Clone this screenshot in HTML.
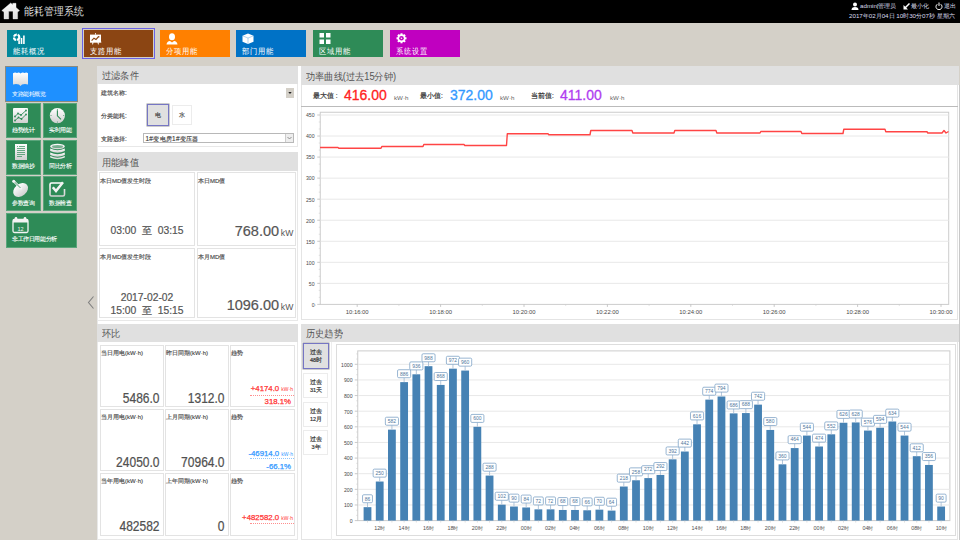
<!DOCTYPE html>
<html><head><meta charset="utf-8">
<style>
*{box-sizing:border-box;margin:0;padding:0}
html,body{width:960px;height:540px;overflow:hidden}
body{position:relative;background:#d4d0c8;font-family:"Liberation Sans",sans-serif;color:#555}
.a{position:absolute}
#hdr{left:0;top:0;width:960px;height:23px;background:#000}
.nt{position:absolute;top:30px;width:70px;height:27px;color:#fff}
.nt .t{position:absolute;left:6px;top:16.5px;font-size:7.5px;line-height:8px;white-space:nowrap;transform:scaleY(1.1);transform-origin:0 0}
.nt svg{position:absolute;left:6px;top:3px}
.st{position:absolute;background:#2e8b57;border:1px solid #5aa57b;color:#e8f0e8}
.st .t{position:absolute;font-size:5.5px;line-height:6px;white-space:nowrap}
.ph{position:absolute;background:#e0e0e0;height:18px}
.ph span{position:absolute;left:5px;top:4px;font-size:10px;line-height:11px;color:#555;white-space:nowrap;transform:scaleX(0.92);transform-origin:0 0}
.card{position:absolute;border:1px solid #e3e3e3;background:#fff}
.lbl{position:absolute;left:0px;top:5px;font-size:6px;line-height:7px;color:#444;white-space:nowrap;-webkit-text-stroke:0.15px #555}
.fl{position:absolute;font-size:6.4px;line-height:7px;color:#444;white-space:nowrap;-webkit-text-stroke:0.15px #555}
</style></head><body>
<!-- header -->
<div class="a" style="left:0;top:0;width:960px;height:23px;background:#000"></div>
<svg class="a" style="left:0;top:0" width="24" height="23" viewBox="0 0 24 23"><defs><linearGradient id="hg" x1="0" y1="0" x2="0" y2="1"><stop offset="0" stop-color="#fafafa"/><stop offset="1" stop-color="#dcdcdc"/></linearGradient></defs><path d="M1.8 10.6 L10.7 3 L12.7 4.7 L12.7 3.3 L16 3.3 L16 7.4 L19.5 10.6 L17.6 12 L17.6 18.9 L13 18.9 L13 11.2 L8.7 11.2 L8.7 18.9 L4 18.9 L4 12 Z" fill="url(#hg)" stroke="#eee" stroke-width="0.4" stroke-linejoin="round"/></svg>
<div class="a" style="left:24px;top:5px;font-size:10px;line-height:12px;color:#ddd;white-space:nowrap;transform:scaleY(1.12);transform-origin:0 0">能耗管理系统</div>
<svg class="a" style="left:851px;top:2px" width="8" height="8" viewBox="0 0 8 8"><circle cx="4" cy="2.5" r="2" fill="#fff"/><path d="M0.5 8 Q0.5 5 4 5 Q7.5 5 7.5 8Z" fill="#fff"/></svg>
<div class="a" style="left:860px;top:2px;font-size:6.2px;line-height:8px;color:#dde;white-space:nowrap">admin|管理员</div>
<svg class="a" style="left:903px;top:3px" width="7" height="7" viewBox="0 0 7 7"><path d="M6.5 0.5 L1.5 5.5" stroke="#fff" stroke-width="1.5"/><path d="M0.5 2 L0.5 6.5 L5 6.5Z" fill="#fff"/></svg>
<div class="a" style="left:911px;top:2px;font-size:6.2px;line-height:8px;color:#dde;white-space:nowrap">最小化</div>
<svg class="a" style="left:935px;top:2px" width="8" height="8" viewBox="0 0 8 8"><path d="M2.3 2.2 A3 3 0 1 0 5.7 2.2" stroke="#fff" stroke-width="1" fill="none"/><path d="M4 0.5 L4 4" stroke="#fff" stroke-width="1"/></svg>
<div class="a" style="left:944px;top:2px;font-size:6.2px;line-height:8px;color:#dde;white-space:nowrap">退出</div>
<div class="a" style="left:849px;top:11px;font-size:6.2px;line-height:9px;color:#dde;white-space:nowrap">2017年02月04日 10时30分07秒 星期六</div>

<!-- nav tiles -->
<div class="nt" style="left:7px;background:#02879b">
  <svg width="13" height="12" viewBox="0 0 13 12"><circle cx="3.6" cy="4.3" r="2.7" stroke="#fff" stroke-width="2.2" fill="none" stroke-dasharray="3.6 0.9"/><rect x="5.3" y="7.2" width="1.6" height="3.8" fill="#fff"/><rect x="7.7" y="5" width="1.6" height="6" fill="#fff"/><rect x="10.1" y="2.5" width="1.6" height="8.5" fill="#fff"/></svg>
  <span class="t">能耗概况</span>
</div>
<div class="a" style="left:82px;top:28px;width:73px;height:31px;border:1px solid #6a62e6"></div>
<div class="nt" style="left:84px;width:69px;background:#8b4513">
  <svg width="13" height="13" viewBox="0 0 13 13"><rect x="0" y="1.6" width="11" height="7.6" fill="#fff"/><path d="M1.6 7.6 L4 5.2 L6 6.4 L8.6 3.6" stroke="#8b4513" stroke-width="1.2" fill="none"/><path d="M7.6 3.2 L9.4 3 L9.2 4.8Z" fill="#8b4513"/><path d="M5.5 0.2 L5.5 1.6 M3 9 L2.6 11.4 M8 9 L8.4 11.4" stroke="#fff" stroke-width="1"/><rect x="-0.3" y="8.6" width="11.6" height="1" fill="#fff"/></svg>
  <span class="t">支路用能</span>
</div>
<div class="nt" style="left:160px;background:#ff8000">
  <svg width="13" height="13" viewBox="0 0 13 13"><ellipse cx="6" cy="3.7" rx="3" ry="3.5" fill="#fff"/><path d="M0.5 11.5 Q1 8.3 4 8 L6 9.5 L8 8 Q11 8.3 11.5 11.5Z" fill="#fff"/></svg>
  <span class="t">分项用能</span>
</div>
<div class="nt" style="left:236px;background:#0072c6">
  <svg width="13" height="13" viewBox="0 0 13 13"><path d="M6 0.5 L11.5 2.8 L11.5 8.8 L6 11 L0.5 8.8 L0.5 2.8Z" fill="#fff"/><path d="M1 3 L6 5 L11 3 M6 5 L6 10.5" stroke="#0072c6" stroke-width="0.6" fill="none" opacity="0.5"/></svg>
  <span class="t">部门用能</span>
</div>
<div class="nt" style="left:313px;background:#2e8b57">
  <svg width="13" height="13" viewBox="0 0 13 13"><rect x="0.5" y="0" width="4.5" height="4.5" fill="#fff"/><rect x="7" y="0" width="4.5" height="4.5" fill="#fff"/><rect x="0.5" y="6.5" width="4.5" height="4.5" fill="#fff"/><rect x="7" y="6.5" width="4.5" height="4.5" fill="#fff"/></svg>
  <span class="t">区域用能</span>
</div>
<div class="nt" style="left:390px;background:#c000c0">
  <svg width="13" height="13" viewBox="0 0 13 13"><g transform="translate(5.5,5.3)"><circle r="4" fill="#fff"/><g fill="#fff"><rect x="-1" y="-5" width="2" height="10"/><rect x="-1" y="-5" width="2" height="10" transform="rotate(45)"/><rect x="-1" y="-5" width="2" height="10" transform="rotate(90)"/><rect x="-1" y="-5" width="2" height="10" transform="rotate(135)"/></g><circle r="2.3" fill="#c000c0"/><path d="M-0.7 -1 L1 0 L-0.7 1Z" fill="#fff"/></g></svg>
  <span class="t">系统设置</span>
</div>

<!-- sidebar -->
<div class="a" style="left:5px;top:66px;width:73px;height:36px;background:#1e90ff;border:1px solid #8a8a80"></div>
<svg class="a" style="left:13px;top:72px" width="16" height="15" viewBox="0 0 16 15">
  <defs><linearGradient id="gw" x1="0" y1="0" x2="0" y2="1"><stop offset="0" stop-color="#fff"/><stop offset="1" stop-color="#d8d8d8"/></linearGradient></defs>
  <path d="M0 1.2 Q2 0 4 1 Q6 0 7.5 1.5 Q9.5 0 11.5 1 Q13.5 0 15 1.2 L15 12.5 Q12 11.5 9 12.5 L7.5 14 L6 12.5 Q3 11.5 0 12.5Z" fill="url(#gw)"/>
</svg>
<div class="a" style="left:12px;top:90.5px;font-size:5.5px;letter-spacing:-0.45px;line-height:6px;color:#fff;white-space:nowrap">支路能耗概览</div>

<div class="st" style="left:6px;top:103px;width:35px;height:35px"></div>
<div class="st" style="left:43px;top:103px;width:34px;height:35px"></div>
<div class="st" style="left:6px;top:140px;width:35px;height:35px"></div>
<div class="st" style="left:43px;top:140px;width:34px;height:35px"></div>
<div class="st" style="left:6px;top:176px;width:35px;height:35px"></div>
<div class="st" style="left:43px;top:176px;width:34px;height:35px"></div>
<div class="st" style="left:6px;top:213px;width:71px;height:35px"></div>

<svg class="a" style="left:0;top:0" width="90" height="260" viewBox="0 0 90 260">
  <defs><linearGradient id="gw2" x1="0" y1="0" x2="0" y2="1"><stop offset="0" stop-color="#fff"/><stop offset="1" stop-color="#d0d0d0"/></linearGradient></defs>
  <!-- trend -->
  <rect x="13" y="108" width="15" height="15" rx="1" fill="url(#gw2)"/>
  <path d="M15 116.5 L18 113.5 L21 115 L26 110.5 M15 120.5 L18.5 117.5 L21.5 119 L26 114.5" stroke="#2e8b57" stroke-width="0.9" fill="none"/><g fill="#2e8b57"><circle cx="15" cy="116.5" r="0.9"/><circle cx="18" cy="113.5" r="0.9"/><circle cx="21" cy="115" r="0.9"/><circle cx="26" cy="110.5" r="0.9"/><circle cx="15" cy="120.5" r="0.9"/><circle cx="18.5" cy="117.5" r="0.9"/><circle cx="21.5" cy="119" r="0.9"/><circle cx="26" cy="114.5" r="0.9"/></g>
  <!-- clock -->
  <circle cx="57.4" cy="115.6" r="7.6" fill="url(#gw2)"/>
  <path d="M57.4 110.2 L57.4 115.8 L61 119.4" stroke="#2e8b57" stroke-width="1.1" fill="none"/><g fill="#2e8b57"><circle cx="57.4" cy="109.2" r="0.5"/><circle cx="57.4" cy="122" r="0.5"/><circle cx="51" cy="115.6" r="0.5"/><circle cx="63.8" cy="115.6" r="0.5"/></g>
  <!-- document -->
  <rect x="15" y="144" width="12" height="16" fill="url(#gw2)"/>
  <g stroke="#2e8b57" stroke-width="0.7"><path d="M17 146.5 L18 146.5 M19 146.5 L25 146.5 M17 148.5 L25 148.5 M17 150.5 L25 150.5 M17 152.5 L25 152.5 M17 154.5 L25 154.5 M17 156.5 L22 156.5"/></g>
  <!-- database -->
  <g fill="url(#gw2)"><ellipse cx="57.5" cy="146.5" rx="7.3" ry="2.7"/><path d="M50.2 148.5 Q57.5 152 64.8 148.5 L64.8 151 Q57.5 154.5 50.2 151Z"/><path d="M50.2 152.5 Q57.5 156 64.8 152.5 L64.8 155 Q57.5 158.5 50.2 155Z"/><path d="M50.2 156 Q57.5 159.5 64.8 156 L64.8 157.5 Q57.5 161 50.2 157.5Z"/></g>
  <ellipse cx="57.5" cy="146.5" rx="5.5" ry="1.5" fill="#2e8b57" opacity="0.6"/>
  <!-- dish -->
  <ellipse cx="20.6" cy="190" rx="8.3" ry="6" transform="rotate(-40 20.6 190)" fill="url(#gw2)"/>
  <path d="M14 181.5 L21 188.5" stroke="#f4f4f4" stroke-width="2.4" stroke-linecap="round"/><path d="M14.5 182 L20.5 188" stroke="#2e8b57" stroke-width="0.8"/><circle cx="13.7" cy="181.3" r="1.5" fill="#f4f4f4"/>
  <!-- check -->
  <path d="M62 183 L51.5 183 Q50 183 50 184.5 L50 194.5 Q50 196 51.5 196 L63 196 Q64.5 196 64.5 194.5 L64.5 189" stroke="url(#gw2)" stroke-width="1.6" fill="none"/>
  <path d="M52.8 187.2 L56 191 L63 182.2" stroke="#f4f4f4" stroke-width="2.5" fill="none"/>
  <!-- calendar -->
  <rect x="13" y="219.5" width="15" height="13" rx="1.5" stroke="#f4f4f4" stroke-width="1.3" fill="none"/>
  <rect x="13" y="219.5" width="15" height="3" fill="#f4f4f4"/>
  <circle cx="16" cy="218.3" r="1.3" fill="#f4f4f4"/><circle cx="25" cy="218.3" r="1.3" fill="#f4f4f4"/>
  <text x="20.5" y="230.5" font-size="5.5" fill="#f4f4f4" text-anchor="middle" font-family="Liberation Sans">12</text>
</svg>
<div class="st t2 a" style="border:0;background:none;left:12px;top:126.8px;font-size:5.5px;line-height:6px;white-space:nowrap;letter-spacing:-0.3px;color:#fff;-webkit-text-stroke:0.1px #fff">趋势统计</div>
<div class="st t2 a" style="border:0;background:none;left:49px;top:126.8px;font-size:5.5px;line-height:6px;white-space:nowrap;letter-spacing:-0.3px;color:#fff;-webkit-text-stroke:0.1px #fff">实时用能</div>
<div class="st t2 a" style="border:0;background:none;left:12px;top:162.5px;font-size:5.5px;line-height:6px;white-space:nowrap;letter-spacing:-0.3px;color:#fff;-webkit-text-stroke:0.1px #fff">数据抽抄</div>
<div class="st t2 a" style="border:0;background:none;left:49px;top:162.5px;font-size:5.5px;line-height:6px;white-space:nowrap;letter-spacing:-0.3px;color:#fff;-webkit-text-stroke:0.1px #fff">同比分析</div>
<div class="st t2 a" style="border:0;background:none;left:12px;top:199.5px;font-size:5.5px;line-height:6px;white-space:nowrap;letter-spacing:-0.3px;color:#fff;-webkit-text-stroke:0.1px #fff">参数查询</div>
<div class="st t2 a" style="border:0;background:none;left:49px;top:199.5px;font-size:5.5px;line-height:6px;white-space:nowrap;letter-spacing:-0.3px;color:#fff;-webkit-text-stroke:0.1px #fff">数据检查</div>
<div class="st t2 a" style="border:0;background:none;left:12px;top:236px;font-size:5.5px;letter-spacing:-0.4px;line-height:6px;white-space:nowrap;color:#fff;-webkit-text-stroke:0.1px #fff">非工作日用能分析</div>
<!-- arrow -->
<svg class="a" style="left:86px;top:295px" width="10" height="16" viewBox="0 0 10 16"><path d="M7.5 1.5 L2.5 7.5 L7.5 13.5" stroke="#808080" stroke-width="1.1" fill="none"/></svg>

<!-- main white container -->
<div class="a" style="left:97px;top:66px;width:862px;height:474px;background:#fff;border-left:1px solid #e8e8e8"></div>
<!-- filter -->
<div class="ph" style="left:97px;top:66px;width:201px;height:18px"><span style="top:4px">过滤条件</span></div>
<div class="a" style="left:97px;top:84px;width:201px;height:63px;border:1px solid #e8e8e8;border-top:0"></div>
<div class="fl" style="left:101px;top:89px">建筑名称:</div>
<div class="a" style="left:286px;top:88px;width:8px;height:10px;background:#d4d0c8"></div>
<svg class="a" style="left:286px;top:88px" width="8" height="10"><path d="M2.3 4 L5.7 4 L4 6Z" fill="#222"/></svg>
<div class="fl" style="left:101px;top:112px">分类能耗:</div>
<div class="a" style="left:147px;top:104px;width:22px;height:22px;background:#e0e0e0;border:1.5px solid #7676c4;box-shadow:0 0 0 0.5px #999"></div>
<div class="fl" style="left:155px;top:111px;color:#333">电</div>
<div class="a" style="left:172px;top:105px;width:20px;height:20px;background:#fff;border:1px solid #ececec"></div>
<div class="fl" style="left:179px;top:111px;color:#333">水</div>
<div class="fl" style="left:101px;top:135px">支路选择:</div>
<div class="a" style="left:143px;top:133px;width:151px;height:10px;border:1px solid #b8b8b8;background:#fff"></div>
<div class="a" style="left:285px;top:134px;width:8px;height:8px;background:#eee;border-left:1px solid #ccc"></div>
<svg class="a" style="left:285px;top:134px" width="9" height="8"><path d="M2.5 3 L4.5 5 L6.5 3" stroke="#777" stroke-width="0.8" fill="none"/></svg>
<div class="fl" style="left:145.5px;top:134.5px;color:#333;font-size:6.4px;letter-spacing:0.3px">1#变电房1#变压器</div>

<!-- peak -->
<div class="ph" style="left:97px;top:152px;width:201px;height:19px"><span style="top:5px">用能峰值</span></div>
<div class="a" style="left:97px;top:171px;width:201px;height:150px;border:1px solid #e8e8e8;border-top:0"></div>
<div class="card" style="left:99px;top:172px;width:96px;height:74px"><div class="lbl">本日MD值发生时段</div></div>
<div class="card" style="left:197px;top:172px;width:99px;height:74px"><div class="lbl">本日MD值</div></div>
<div class="card" style="left:99px;top:248px;width:96px;height:70px"><div class="lbl">本月MD值发生时段</div></div>
<div class="card" style="left:197px;top:248px;width:99px;height:70px"><div class="lbl">本月MD值</div></div>
<div class="a" style="left:99px;top:224.5px;width:96px;text-align:center;font-size:10.3px;line-height:12px;color:#555;white-space:nowrap;word-spacing:0px;-webkit-text-stroke:0.2px #555">03:00 &nbsp;至 &nbsp;03:15</div>
<div class="a" style="left:99px;top:291.5px;width:96px;text-align:center;font-size:10.3px;line-height:12px;color:#555;white-space:nowrap;-webkit-text-stroke:0.2px #555">2017-02-02</div>
<div class="a" style="left:99px;top:304.5px;width:96px;text-align:center;font-size:10.3px;line-height:12px;color:#555;white-space:nowrap;word-spacing:0px;-webkit-text-stroke:0.2px #555">15:00 &nbsp;至 &nbsp;15:15</div>
<div class="a" style="left:197px;top:222px;width:96.5px;text-align:right;font-size:14.5px;line-height:16px;color:#555;white-space:nowrap;transform:scaleY(1.07);transform-origin:0 0;-webkit-text-stroke:0.2px #555">768.00<span style="font-size:8.6px;margin-left:1.6px;-webkit-text-stroke:0;letter-spacing:0.2px">kW</span></div>
<div class="a" style="left:197px;top:295.5px;width:96.5px;text-align:right;font-size:14.5px;line-height:16px;color:#555;white-space:nowrap;transform:scaleY(1.07);transform-origin:0 0;-webkit-text-stroke:0.2px #555">1096.00<span style="font-size:8.6px;margin-left:1.6px;-webkit-text-stroke:0;letter-spacing:0.2px">kW</span></div>

<!-- huanbi -->
<div class="ph" style="left:97px;top:324px;width:201px;height:18px"><span style="top:4px">环比</span></div>
<div class="a" style="left:97px;top:342px;width:201px;height:198px;border:1px solid #e8e8e8;border-top:0"></div>

<div class="card" style="left:100px;top:345px;width:64px;height:62px"><div class="lbl" style="top:4px">当日用电(kW·h)</div></div>
<div class="card" style="left:165px;top:345px;width:64px;height:62px"><div class="lbl" style="top:4px">昨日同期(kW·h)</div></div>
<div class="card" style="left:230px;top:345px;width:65px;height:62px"><div class="lbl" style="top:4px">趋势</div></div>
<div class="a" style="left:100px;top:390px;width:59.5px;text-align:right;font-size:12px;line-height:14px;color:#505050;white-space:nowrap;transform:scaleY(1.2);transform-origin:0 0;-webkit-text-stroke:0.2px #505050">5486.0</div>
<div class="a" style="left:165px;top:390px;width:59.5px;text-align:right;font-size:12px;line-height:14px;color:#505050;white-space:nowrap;transform:scaleY(1.2);transform-origin:0 0;-webkit-text-stroke:0.2px #505050">1312.0</div>
<div class="a" style="left:230px;top:384px;width:63px;text-align:right;font-size:7.8px;line-height:9px;-webkit-text-stroke:0.25px currentColor;color:#f33;white-space:nowrap">+4174.0 <span style="font-size:5px;-webkit-text-stroke:0">kW·h</span></div>
<div class="a" style="left:250px;top:395px;width:44px;height:1px;border-top:1px dotted #f33;opacity:0.55"></div>
<div class="a" style="left:230px;top:397px;width:61px;text-align:right;font-size:7.8px;line-height:9px;-webkit-text-stroke:0.25px currentColor;color:#f33;white-space:nowrap">318.1%</div>
<div class="card" style="left:100px;top:409px;width:64px;height:62px"><div class="lbl" style="top:4px">当月用电(kW·h)</div></div>
<div class="card" style="left:165px;top:409px;width:64px;height:62px"><div class="lbl" style="top:4px">上月同期(kW·h)</div></div>
<div class="card" style="left:230px;top:409px;width:65px;height:62px"><div class="lbl" style="top:4px">趋势</div></div>
<div class="a" style="left:100px;top:453.5px;width:59.5px;text-align:right;font-size:12px;line-height:14px;color:#505050;white-space:nowrap;transform:scaleY(1.2);transform-origin:0 0;-webkit-text-stroke:0.2px #505050">24050.0</div>
<div class="a" style="left:165px;top:453.5px;width:59.5px;text-align:right;font-size:12px;line-height:14px;color:#505050;white-space:nowrap;transform:scaleY(1.2);transform-origin:0 0;-webkit-text-stroke:0.2px #505050">70964.0</div>
<div class="a" style="left:230px;top:449px;width:63px;text-align:right;font-size:7.8px;line-height:9px;-webkit-text-stroke:0.25px currentColor;color:#39f;white-space:nowrap">-46914.0 <span style="font-size:5px;-webkit-text-stroke:0">kW·h</span></div>
<div class="a" style="left:250px;top:458px;width:44px;height:1px;border-top:1px dotted #39f;opacity:0.55"></div>
<div class="a" style="left:230px;top:462px;width:61px;text-align:right;font-size:7.8px;line-height:9px;-webkit-text-stroke:0.25px currentColor;color:#39f;white-space:nowrap">-66.1%</div>
<div class="card" style="left:100px;top:473px;width:64px;height:63px"><div class="lbl" style="top:4px">当年用电(kW·h)</div></div>
<div class="card" style="left:165px;top:473px;width:64px;height:63px"><div class="lbl" style="top:4px">上年同期(kW·h)</div></div>
<div class="card" style="left:230px;top:473px;width:65px;height:63px"><div class="lbl" style="top:4px">趋势</div></div>
<div class="a" style="left:100px;top:517.5px;width:59.5px;text-align:right;font-size:12px;line-height:14px;color:#505050;white-space:nowrap;transform:scaleY(1.2);transform-origin:0 0;-webkit-text-stroke:0.2px #505050">482582</div>
<div class="a" style="left:165px;top:517.5px;width:59.5px;text-align:right;font-size:12px;line-height:14px;color:#505050;white-space:nowrap;transform:scaleY(1.2);transform-origin:0 0;-webkit-text-stroke:0.2px #505050">0</div>
<div class="a" style="left:230px;top:513px;width:63px;text-align:right;font-size:7.8px;line-height:9px;-webkit-text-stroke:0.25px currentColor;color:#f33;white-space:nowrap">+482582.0 <span style="font-size:5px;-webkit-text-stroke:0">kW·h</span></div>
<div class="a" style="left:250px;top:523px;width:44px;height:1px;border-top:1px dotted #f33;opacity:0.55"></div>
<div class="ph" style="left:301px;top:66px;width:658px;height:19px"><span style="top:5px">功率曲线(过去15分钟)</span></div>
<div class="a" style="left:301px;top:85px;width:657px;height:235px;border:1px solid #e4e4e4;border-top:0"></div>
<div class="a" style="left:301px;top:106px;width:657px;height:1px;background:#bbb"></div>
<div class="a" style="left:313px;top:92px;font-size:6.5px;line-height:7px;color:#333;white-space:nowrap;-webkit-text-stroke:0.2px #333">最大值 :</div>
<div class="a" style="left:344px;top:87px;font-size:14px;line-height:15px;transform:scaleY(1.05);transform-origin:0 0;-webkit-text-stroke:0.3px currentColor;color:#f22;white-space:nowrap">416.00</div>
<div class="a" style="left:394px;top:93.5px;font-size:6.2px;line-height:7px;color:#666;white-space:nowrap">kW·h</div>
<div class="a" style="left:420px;top:92px;font-size:6.5px;line-height:7px;color:#333;white-space:nowrap;-webkit-text-stroke:0.2px #333">最小值:</div>
<div class="a" style="left:450px;top:87px;font-size:14px;line-height:15px;transform:scaleY(1.05);transform-origin:0 0;-webkit-text-stroke:0.3px currentColor;color:#39f;white-space:nowrap">372.00</div>
<div class="a" style="left:500px;top:93.5px;font-size:6.2px;line-height:7px;color:#666;white-space:nowrap">kW·h</div>
<div class="a" style="left:531px;top:92px;font-size:6.5px;line-height:7px;color:#333;white-space:nowrap;-webkit-text-stroke:0.2px #333">当前值:</div>
<div class="a" style="left:560px;top:87px;font-size:14px;line-height:15px;transform:scaleY(1.05);transform-origin:0 0;-webkit-text-stroke:0.3px currentColor;color:#b03cf0;white-space:nowrap">411.00</div>
<div class="a" style="left:610px;top:93.5px;font-size:6.2px;line-height:7px;color:#666;white-space:nowrap">kW·h</div>
<div class="ph" style="left:301px;top:324px;width:658px;height:18px"><span style="top:4px">历史趋势</span></div>
<div class="a" style="left:301px;top:342px;width:657px;height:198px;border:1px solid #e4e4e4;border-top:0"></div>
<div class="a" style="left:331px;top:342px;width:1px;height:198px;background:#eee"></div>
<div class="a" style="left:303px;top:343px;width:26px;height:26px;background:#e0e0e0;border:1.5px solid #7676c4;box-shadow:0 0 0 0.5px #999"></div>
<div class="a" style="left:303px;top:349px;width:26px;text-align:center;font-size:5.5px;line-height:7.5px;color:#333;-webkit-text-stroke:0.2px #333">过去<br>48时</div>
<div class="a" style="left:303px;top:373px;width:25px;height:25px;background:#fff;border:1px solid #ececec"></div>
<div class="a" style="left:303px;top:379px;width:26px;text-align:center;font-size:5.5px;line-height:7.5px;color:#333;-webkit-text-stroke:0.2px #333">过去<br>31天</div>
<div class="a" style="left:303px;top:402px;width:25px;height:25px;background:#fff;border:1px solid #ececec"></div>
<div class="a" style="left:303px;top:408px;width:26px;text-align:center;font-size:5.5px;line-height:7.5px;color:#333;-webkit-text-stroke:0.2px #333">过去<br>12月</div>
<div class="a" style="left:303px;top:430px;width:25px;height:25px;background:#fff;border:1px solid #ececec"></div>
<div class="a" style="left:303px;top:436px;width:26px;text-align:center;font-size:5.5px;line-height:7.5px;color:#333;-webkit-text-stroke:0.2px #333">过去<br>3年</div>
<svg class="a" style="left:0;top:0" width="960" height="540" viewBox="0 0 960 540" font-family="Liberation Sans, sans-serif"><rect x="301.5" y="106.5" width="656" height="213" fill="none" stroke="none"/><rect x="320.25" y="112.25" width="628.45" height="192.14999999999998" fill="none" stroke="#ccc" stroke-width="1"/><line x1="317.25" y1="304.40" x2="320.25" y2="304.40" stroke="#bbb" stroke-width="0.8"/><text x="314.6" y="306.60" font-size="5.6" fill="#484848" text-anchor="end" transform="translate(314.6 304.40) scale(0.92 1.08) translate(-314.6 -304.40)">0</text><line x1="318.75" y1="297.39" x2="320.25" y2="297.39" stroke="#ccc" stroke-width="0.6"/><line x1="318.75" y1="290.37" x2="320.25" y2="290.37" stroke="#ccc" stroke-width="0.6"/><line x1="320.25" y1="283.36" x2="948.7" y2="283.36" stroke="#e8e8e8" stroke-width="1"/><line x1="317.25" y1="283.36" x2="320.25" y2="283.36" stroke="#bbb" stroke-width="0.8"/><text x="314.6" y="285.56" font-size="5.6" fill="#484848" text-anchor="end" transform="translate(314.6 283.36) scale(0.92 1.08) translate(-314.6 -283.36)">50</text><line x1="318.75" y1="276.34" x2="320.25" y2="276.34" stroke="#ccc" stroke-width="0.6"/><line x1="318.75" y1="269.33" x2="320.25" y2="269.33" stroke="#ccc" stroke-width="0.6"/><line x1="320.25" y1="262.31" x2="948.7" y2="262.31" stroke="#e8e8e8" stroke-width="1"/><line x1="317.25" y1="262.31" x2="320.25" y2="262.31" stroke="#bbb" stroke-width="0.8"/><text x="314.6" y="264.51" font-size="5.6" fill="#484848" text-anchor="end" transform="translate(314.6 262.31) scale(0.92 1.08) translate(-314.6 -262.31)">100</text><line x1="318.75" y1="255.30" x2="320.25" y2="255.30" stroke="#ccc" stroke-width="0.6"/><line x1="318.75" y1="248.28" x2="320.25" y2="248.28" stroke="#ccc" stroke-width="0.6"/><line x1="320.25" y1="241.27" x2="948.7" y2="241.27" stroke="#e8e8e8" stroke-width="1"/><line x1="317.25" y1="241.27" x2="320.25" y2="241.27" stroke="#bbb" stroke-width="0.8"/><text x="314.6" y="243.47" font-size="5.6" fill="#484848" text-anchor="end" transform="translate(314.6 241.27) scale(0.92 1.08) translate(-314.6 -241.27)">150</text><line x1="318.75" y1="234.25" x2="320.25" y2="234.25" stroke="#ccc" stroke-width="0.6"/><line x1="318.75" y1="227.24" x2="320.25" y2="227.24" stroke="#ccc" stroke-width="0.6"/><line x1="320.25" y1="220.22" x2="948.7" y2="220.22" stroke="#e8e8e8" stroke-width="1"/><line x1="317.25" y1="220.22" x2="320.25" y2="220.22" stroke="#bbb" stroke-width="0.8"/><text x="314.6" y="222.42" font-size="5.6" fill="#484848" text-anchor="end" transform="translate(314.6 220.22) scale(0.92 1.08) translate(-314.6 -220.22)">200</text><line x1="318.75" y1="213.21" x2="320.25" y2="213.21" stroke="#ccc" stroke-width="0.6"/><line x1="318.75" y1="206.19" x2="320.25" y2="206.19" stroke="#ccc" stroke-width="0.6"/><line x1="320.25" y1="199.18" x2="948.7" y2="199.18" stroke="#e8e8e8" stroke-width="1"/><line x1="317.25" y1="199.18" x2="320.25" y2="199.18" stroke="#bbb" stroke-width="0.8"/><text x="314.6" y="201.38" font-size="5.6" fill="#484848" text-anchor="end" transform="translate(314.6 199.18) scale(0.92 1.08) translate(-314.6 -199.18)">250</text><line x1="318.75" y1="192.16" x2="320.25" y2="192.16" stroke="#ccc" stroke-width="0.6"/><line x1="318.75" y1="185.15" x2="320.25" y2="185.15" stroke="#ccc" stroke-width="0.6"/><line x1="320.25" y1="178.13" x2="948.7" y2="178.13" stroke="#e8e8e8" stroke-width="1"/><line x1="317.25" y1="178.13" x2="320.25" y2="178.13" stroke="#bbb" stroke-width="0.8"/><text x="314.6" y="180.33" font-size="5.6" fill="#484848" text-anchor="end" transform="translate(314.6 178.13) scale(0.92 1.08) translate(-314.6 -178.13)">300</text><line x1="318.75" y1="171.12" x2="320.25" y2="171.12" stroke="#ccc" stroke-width="0.6"/><line x1="318.75" y1="164.10" x2="320.25" y2="164.10" stroke="#ccc" stroke-width="0.6"/><line x1="320.25" y1="157.09" x2="948.7" y2="157.09" stroke="#e8e8e8" stroke-width="1"/><line x1="317.25" y1="157.09" x2="320.25" y2="157.09" stroke="#bbb" stroke-width="0.8"/><text x="314.6" y="159.29" font-size="5.6" fill="#484848" text-anchor="end" transform="translate(314.6 157.09) scale(0.92 1.08) translate(-314.6 -157.09)">350</text><line x1="318.75" y1="150.07" x2="320.25" y2="150.07" stroke="#ccc" stroke-width="0.6"/><line x1="318.75" y1="143.06" x2="320.25" y2="143.06" stroke="#ccc" stroke-width="0.6"/><line x1="320.25" y1="136.04" x2="948.7" y2="136.04" stroke="#e8e8e8" stroke-width="1"/><line x1="317.25" y1="136.04" x2="320.25" y2="136.04" stroke="#bbb" stroke-width="0.8"/><text x="314.6" y="138.24" font-size="5.6" fill="#484848" text-anchor="end" transform="translate(314.6 136.04) scale(0.92 1.08) translate(-314.6 -136.04)">400</text><line x1="318.75" y1="129.03" x2="320.25" y2="129.03" stroke="#ccc" stroke-width="0.6"/><line x1="318.75" y1="122.01" x2="320.25" y2="122.01" stroke="#ccc" stroke-width="0.6"/><line x1="320.25" y1="115.00" x2="948.7" y2="115.00" stroke="#e8e8e8" stroke-width="1"/><line x1="317.25" y1="115.00" x2="320.25" y2="115.00" stroke="#bbb" stroke-width="0.8"/><text x="314.6" y="117.20" font-size="5.6" fill="#484848" text-anchor="end" transform="translate(314.6 115.00) scale(0.92 1.08) translate(-314.6 -115.00)">450</text><line x1="357.20" y1="304.4" x2="357.20" y2="306.9" stroke="#bbb" stroke-width="0.8"/><text x="357.20" y="314.4" font-size="5.9" fill="#484848" text-anchor="middle">10:16:00</text><line x1="315.50" y1="304.4" x2="315.50" y2="305.9" stroke="#ccc" stroke-width="0.6"/><line x1="440.60" y1="304.4" x2="440.60" y2="306.9" stroke="#bbb" stroke-width="0.8"/><text x="440.60" y="314.4" font-size="5.9" fill="#484848" text-anchor="middle">10:18:00</text><line x1="398.90" y1="304.4" x2="398.90" y2="305.9" stroke="#ccc" stroke-width="0.6"/><line x1="524.00" y1="304.4" x2="524.00" y2="306.9" stroke="#bbb" stroke-width="0.8"/><text x="524.00" y="314.4" font-size="5.9" fill="#484848" text-anchor="middle">10:20:00</text><line x1="482.30" y1="304.4" x2="482.30" y2="305.9" stroke="#ccc" stroke-width="0.6"/><line x1="607.40" y1="304.4" x2="607.40" y2="306.9" stroke="#bbb" stroke-width="0.8"/><text x="607.40" y="314.4" font-size="5.9" fill="#484848" text-anchor="middle">10:22:00</text><line x1="565.70" y1="304.4" x2="565.70" y2="305.9" stroke="#ccc" stroke-width="0.6"/><line x1="690.80" y1="304.4" x2="690.80" y2="306.9" stroke="#bbb" stroke-width="0.8"/><text x="690.80" y="314.4" font-size="5.9" fill="#484848" text-anchor="middle">10:24:00</text><line x1="649.10" y1="304.4" x2="649.10" y2="305.9" stroke="#ccc" stroke-width="0.6"/><line x1="774.20" y1="304.4" x2="774.20" y2="306.9" stroke="#bbb" stroke-width="0.8"/><text x="774.20" y="314.4" font-size="5.9" fill="#484848" text-anchor="middle">10:26:00</text><line x1="732.50" y1="304.4" x2="732.50" y2="305.9" stroke="#ccc" stroke-width="0.6"/><line x1="857.60" y1="304.4" x2="857.60" y2="306.9" stroke="#bbb" stroke-width="0.8"/><text x="857.60" y="314.4" font-size="5.9" fill="#484848" text-anchor="middle">10:28:00</text><line x1="815.90" y1="304.4" x2="815.90" y2="305.9" stroke="#ccc" stroke-width="0.6"/><line x1="941.00" y1="304.4" x2="941.00" y2="306.9" stroke="#bbb" stroke-width="0.8"/><text x="941.00" y="314.4" font-size="5.9" fill="#484848" text-anchor="middle">10:30:00</text><line x1="899.30" y1="304.4" x2="899.30" y2="305.9" stroke="#ccc" stroke-width="0.6"/><path d="M320.0 147.50 L338.0 147.50 L338.8 148.25 L381.0 148.25 L381.8 146.50 L423.0 146.50 L423.8 144.50 L464.0 144.50 L464.8 145.50 L506.5 145.50 L507.3 133.75 L548.0 133.75 L548.8 134.75 L590.0 134.75 L590.8 130.50 L632.0 130.50 L632.8 133.00 L674.0 133.00 L674.8 130.50 L716.0 130.50 L716.8 133.00 L760.0 133.00 L760.8 131.50 L801.0 131.50 L801.8 133.50 L843.0 133.50 L843.8 129.25 L885.0 129.25 L885.8 131.75 L927.0 131.75 L927.8 133.00 L942.0 133.00 L944.0 130.50 L946.0 133.00 L948.5 131.50" fill="none" stroke="#f44" stroke-width="1.4" stroke-linejoin="round"/><rect x="336.5" y="344.5" width="619" height="191" fill="none" stroke="#ddd" stroke-width="1"/><rect x="357.75" y="350.9" width="592.15" height="169.70000000000005" fill="none" stroke="#ccc" stroke-width="1"/><line x1="354.75" y1="520.60" x2="357.75" y2="520.60" stroke="#bbb" stroke-width="0.8"/><text x="352.5" y="522.80" font-size="5.6" fill="#484848" text-anchor="end" transform="translate(352.5 520.60) scale(0.92 1.08) translate(-352.5 -520.60)">0</text><line x1="356.25" y1="515.39" x2="357.75" y2="515.39" stroke="#ccc" stroke-width="0.6"/><line x1="356.25" y1="510.18" x2="357.75" y2="510.18" stroke="#ccc" stroke-width="0.6"/><line x1="357.75" y1="504.97" x2="949.9" y2="504.97" stroke="#e8e8e8" stroke-width="1"/><line x1="354.75" y1="504.97" x2="357.75" y2="504.97" stroke="#bbb" stroke-width="0.8"/><text x="352.5" y="507.17" font-size="5.6" fill="#484848" text-anchor="end" transform="translate(352.5 504.97) scale(0.92 1.08) translate(-352.5 -504.97)">100</text><line x1="356.25" y1="499.76" x2="357.75" y2="499.76" stroke="#ccc" stroke-width="0.6"/><line x1="356.25" y1="494.55" x2="357.75" y2="494.55" stroke="#ccc" stroke-width="0.6"/><line x1="357.75" y1="489.34" x2="949.9" y2="489.34" stroke="#e8e8e8" stroke-width="1"/><line x1="354.75" y1="489.34" x2="357.75" y2="489.34" stroke="#bbb" stroke-width="0.8"/><text x="352.5" y="491.54" font-size="5.6" fill="#484848" text-anchor="end" transform="translate(352.5 489.34) scale(0.92 1.08) translate(-352.5 -489.34)">200</text><line x1="356.25" y1="484.13" x2="357.75" y2="484.13" stroke="#ccc" stroke-width="0.6"/><line x1="356.25" y1="478.92" x2="357.75" y2="478.92" stroke="#ccc" stroke-width="0.6"/><line x1="357.75" y1="473.71" x2="949.9" y2="473.71" stroke="#e8e8e8" stroke-width="1"/><line x1="354.75" y1="473.71" x2="357.75" y2="473.71" stroke="#bbb" stroke-width="0.8"/><text x="352.5" y="475.91" font-size="5.6" fill="#484848" text-anchor="end" transform="translate(352.5 473.71) scale(0.92 1.08) translate(-352.5 -473.71)">300</text><line x1="356.25" y1="468.50" x2="357.75" y2="468.50" stroke="#ccc" stroke-width="0.6"/><line x1="356.25" y1="463.29" x2="357.75" y2="463.29" stroke="#ccc" stroke-width="0.6"/><line x1="357.75" y1="458.08" x2="949.9" y2="458.08" stroke="#e8e8e8" stroke-width="1"/><line x1="354.75" y1="458.08" x2="357.75" y2="458.08" stroke="#bbb" stroke-width="0.8"/><text x="352.5" y="460.28" font-size="5.6" fill="#484848" text-anchor="end" transform="translate(352.5 458.08) scale(0.92 1.08) translate(-352.5 -458.08)">400</text><line x1="356.25" y1="452.87" x2="357.75" y2="452.87" stroke="#ccc" stroke-width="0.6"/><line x1="356.25" y1="447.66" x2="357.75" y2="447.66" stroke="#ccc" stroke-width="0.6"/><line x1="357.75" y1="442.45" x2="949.9" y2="442.45" stroke="#e8e8e8" stroke-width="1"/><line x1="354.75" y1="442.45" x2="357.75" y2="442.45" stroke="#bbb" stroke-width="0.8"/><text x="352.5" y="444.65" font-size="5.6" fill="#484848" text-anchor="end" transform="translate(352.5 442.45) scale(0.92 1.08) translate(-352.5 -442.45)">500</text><line x1="356.25" y1="437.24" x2="357.75" y2="437.24" stroke="#ccc" stroke-width="0.6"/><line x1="356.25" y1="432.03" x2="357.75" y2="432.03" stroke="#ccc" stroke-width="0.6"/><line x1="357.75" y1="426.82" x2="949.9" y2="426.82" stroke="#e8e8e8" stroke-width="1"/><line x1="354.75" y1="426.82" x2="357.75" y2="426.82" stroke="#bbb" stroke-width="0.8"/><text x="352.5" y="429.02" font-size="5.6" fill="#484848" text-anchor="end" transform="translate(352.5 426.82) scale(0.92 1.08) translate(-352.5 -426.82)">600</text><line x1="356.25" y1="421.61" x2="357.75" y2="421.61" stroke="#ccc" stroke-width="0.6"/><line x1="356.25" y1="416.40" x2="357.75" y2="416.40" stroke="#ccc" stroke-width="0.6"/><line x1="357.75" y1="411.19" x2="949.9" y2="411.19" stroke="#e8e8e8" stroke-width="1"/><line x1="354.75" y1="411.19" x2="357.75" y2="411.19" stroke="#bbb" stroke-width="0.8"/><text x="352.5" y="413.39" font-size="5.6" fill="#484848" text-anchor="end" transform="translate(352.5 411.19) scale(0.92 1.08) translate(-352.5 -411.19)">700</text><line x1="356.25" y1="405.98" x2="357.75" y2="405.98" stroke="#ccc" stroke-width="0.6"/><line x1="356.25" y1="400.77" x2="357.75" y2="400.77" stroke="#ccc" stroke-width="0.6"/><line x1="357.75" y1="395.56" x2="949.9" y2="395.56" stroke="#e8e8e8" stroke-width="1"/><line x1="354.75" y1="395.56" x2="357.75" y2="395.56" stroke="#bbb" stroke-width="0.8"/><text x="352.5" y="397.76" font-size="5.6" fill="#484848" text-anchor="end" transform="translate(352.5 395.56) scale(0.92 1.08) translate(-352.5 -395.56)">800</text><line x1="356.25" y1="390.35" x2="357.75" y2="390.35" stroke="#ccc" stroke-width="0.6"/><line x1="356.25" y1="385.14" x2="357.75" y2="385.14" stroke="#ccc" stroke-width="0.6"/><line x1="357.75" y1="379.93" x2="949.9" y2="379.93" stroke="#e8e8e8" stroke-width="1"/><line x1="354.75" y1="379.93" x2="357.75" y2="379.93" stroke="#bbb" stroke-width="0.8"/><text x="352.5" y="382.13" font-size="5.6" fill="#484848" text-anchor="end" transform="translate(352.5 379.93) scale(0.92 1.08) translate(-352.5 -379.93)">900</text><line x1="356.25" y1="374.72" x2="357.75" y2="374.72" stroke="#ccc" stroke-width="0.6"/><line x1="356.25" y1="369.51" x2="357.75" y2="369.51" stroke="#ccc" stroke-width="0.6"/><line x1="357.75" y1="364.30" x2="949.9" y2="364.30" stroke="#e8e8e8" stroke-width="1"/><line x1="354.75" y1="364.30" x2="357.75" y2="364.30" stroke="#bbb" stroke-width="0.8"/><text x="352.5" y="366.50" font-size="5.6" fill="#484848" text-anchor="end" transform="translate(352.5 364.30) scale(0.92 1.08) translate(-352.5 -364.30)">1000</text><line x1="356.25" y1="359.09" x2="357.75" y2="359.09" stroke="#ccc" stroke-width="0.6"/><line x1="356.25" y1="353.88" x2="357.75" y2="353.88" stroke="#ccc" stroke-width="0.6"/><rect x="363.60" y="507.16" width="7.8" height="13.44" fill="#4682b4"/><line x1="367.50" y1="502.76" x2="367.50" y2="507.16" stroke="#a9c0d6" stroke-width="0.9"/><rect x="362.55" y="494.76" width="9.90" height="8" rx="1.2" fill="#fff" stroke="#7fa3c6" stroke-width="0.8"/><text x="367.50" y="500.56" font-size="5" fill="#4f769c" text-anchor="middle">86</text><line x1="367.50" y1="520.6" x2="367.50" y2="522.6" stroke="#ccc" stroke-width="0.6"/><rect x="375.81" y="481.53" width="7.8" height="39.07" fill="#4682b4"/><line x1="379.70" y1="477.13" x2="379.70" y2="481.53" stroke="#a9c0d6" stroke-width="0.9"/><rect x="373.15" y="469.13" width="13.10" height="8" rx="1.2" fill="#fff" stroke="#7fa3c6" stroke-width="0.8"/><text x="379.70" y="474.93" font-size="5" fill="#4f769c" text-anchor="middle">250</text><text x="379.70" y="529.9" font-size="5.4" fill="#505050" text-anchor="middle">12时</text><line x1="379.70" y1="520.6" x2="379.70" y2="522.6" stroke="#ccc" stroke-width="0.6"/><rect x="388.01" y="429.63" width="7.8" height="90.97" fill="#4682b4"/><line x1="391.91" y1="425.23" x2="391.91" y2="429.63" stroke="#a9c0d6" stroke-width="0.9"/><rect x="385.36" y="417.23" width="13.10" height="8" rx="1.2" fill="#fff" stroke="#7fa3c6" stroke-width="0.8"/><text x="391.91" y="423.03" font-size="5" fill="#4f769c" text-anchor="middle">582</text><line x1="391.91" y1="520.6" x2="391.91" y2="522.6" stroke="#ccc" stroke-width="0.6"/><rect x="400.22" y="382.12" width="7.8" height="138.48" fill="#4682b4"/><line x1="404.12" y1="377.72" x2="404.12" y2="382.12" stroke="#a9c0d6" stroke-width="0.9"/><rect x="397.56" y="369.72" width="13.10" height="8" rx="1.2" fill="#fff" stroke="#7fa3c6" stroke-width="0.8"/><text x="404.12" y="375.52" font-size="5" fill="#4f769c" text-anchor="middle">886</text><text x="404.12" y="529.9" font-size="5.4" fill="#505050" text-anchor="middle">14时</text><line x1="404.12" y1="520.6" x2="404.12" y2="522.6" stroke="#ccc" stroke-width="0.6"/><rect x="412.42" y="374.30" width="7.8" height="146.30" fill="#4682b4"/><line x1="416.32" y1="369.90" x2="416.32" y2="374.30" stroke="#a9c0d6" stroke-width="0.9"/><rect x="409.77" y="361.90" width="13.10" height="8" rx="1.2" fill="#fff" stroke="#7fa3c6" stroke-width="0.8"/><text x="416.32" y="367.70" font-size="5" fill="#4f769c" text-anchor="middle">936</text><line x1="416.32" y1="520.6" x2="416.32" y2="522.6" stroke="#ccc" stroke-width="0.6"/><rect x="424.62" y="366.18" width="7.8" height="154.42" fill="#4682b4"/><line x1="428.52" y1="361.78" x2="428.52" y2="366.18" stroke="#a9c0d6" stroke-width="0.9"/><rect x="421.97" y="353.78" width="13.10" height="8" rx="1.2" fill="#fff" stroke="#7fa3c6" stroke-width="0.8"/><text x="428.52" y="359.58" font-size="5" fill="#4f769c" text-anchor="middle">988</text><text x="428.52" y="529.9" font-size="5.4" fill="#505050" text-anchor="middle">16时</text><line x1="428.52" y1="520.6" x2="428.52" y2="522.6" stroke="#ccc" stroke-width="0.6"/><rect x="436.83" y="384.93" width="7.8" height="135.67" fill="#4682b4"/><line x1="440.73" y1="380.53" x2="440.73" y2="384.93" stroke="#a9c0d6" stroke-width="0.9"/><rect x="434.18" y="372.53" width="13.10" height="8" rx="1.2" fill="#fff" stroke="#7fa3c6" stroke-width="0.8"/><text x="440.73" y="378.33" font-size="5" fill="#4f769c" text-anchor="middle">868</text><line x1="440.73" y1="520.6" x2="440.73" y2="522.6" stroke="#ccc" stroke-width="0.6"/><rect x="449.04" y="368.68" width="7.8" height="151.92" fill="#4682b4"/><line x1="452.94" y1="364.28" x2="452.94" y2="368.68" stroke="#a9c0d6" stroke-width="0.9"/><rect x="446.38" y="356.28" width="13.10" height="8" rx="1.2" fill="#fff" stroke="#7fa3c6" stroke-width="0.8"/><text x="452.94" y="362.08" font-size="5" fill="#4f769c" text-anchor="middle">972</text><text x="452.94" y="529.9" font-size="5.4" fill="#505050" text-anchor="middle">18时</text><line x1="452.94" y1="520.6" x2="452.94" y2="522.6" stroke="#ccc" stroke-width="0.6"/><rect x="461.24" y="370.55" width="7.8" height="150.05" fill="#4682b4"/><line x1="465.14" y1="366.15" x2="465.14" y2="370.55" stroke="#a9c0d6" stroke-width="0.9"/><rect x="458.59" y="358.15" width="13.10" height="8" rx="1.2" fill="#fff" stroke="#7fa3c6" stroke-width="0.8"/><text x="465.14" y="363.95" font-size="5" fill="#4f769c" text-anchor="middle">960</text><line x1="465.14" y1="520.6" x2="465.14" y2="522.6" stroke="#ccc" stroke-width="0.6"/><rect x="473.45" y="426.82" width="7.8" height="93.78" fill="#4682b4"/><line x1="477.35" y1="422.42" x2="477.35" y2="426.82" stroke="#a9c0d6" stroke-width="0.9"/><rect x="470.80" y="414.42" width="13.10" height="8" rx="1.2" fill="#fff" stroke="#7fa3c6" stroke-width="0.8"/><text x="477.35" y="420.22" font-size="5" fill="#4f769c" text-anchor="middle">600</text><text x="477.35" y="529.9" font-size="5.4" fill="#505050" text-anchor="middle">20时</text><line x1="477.35" y1="520.6" x2="477.35" y2="522.6" stroke="#ccc" stroke-width="0.6"/><rect x="485.65" y="475.59" width="7.8" height="45.01" fill="#4682b4"/><line x1="489.55" y1="471.19" x2="489.55" y2="475.59" stroke="#a9c0d6" stroke-width="0.9"/><rect x="483.00" y="463.19" width="13.10" height="8" rx="1.2" fill="#fff" stroke="#7fa3c6" stroke-width="0.8"/><text x="489.55" y="468.99" font-size="5" fill="#4f769c" text-anchor="middle">288</text><line x1="489.55" y1="520.6" x2="489.55" y2="522.6" stroke="#ccc" stroke-width="0.6"/><rect x="497.86" y="504.66" width="7.8" height="15.94" fill="#4682b4"/><line x1="501.75" y1="500.26" x2="501.75" y2="504.66" stroke="#a9c0d6" stroke-width="0.9"/><rect x="495.20" y="492.26" width="13.10" height="8" rx="1.2" fill="#fff" stroke="#7fa3c6" stroke-width="0.8"/><text x="501.75" y="498.06" font-size="5" fill="#4f769c" text-anchor="middle">102</text><text x="501.75" y="529.9" font-size="5.4" fill="#505050" text-anchor="middle">22时</text><line x1="501.75" y1="520.6" x2="501.75" y2="522.6" stroke="#ccc" stroke-width="0.6"/><rect x="510.06" y="506.53" width="7.8" height="14.07" fill="#4682b4"/><line x1="513.96" y1="502.13" x2="513.96" y2="506.53" stroke="#a9c0d6" stroke-width="0.9"/><rect x="509.01" y="494.13" width="9.90" height="8" rx="1.2" fill="#fff" stroke="#7fa3c6" stroke-width="0.8"/><text x="513.96" y="499.93" font-size="5" fill="#4f769c" text-anchor="middle">90</text><line x1="513.96" y1="520.6" x2="513.96" y2="522.6" stroke="#ccc" stroke-width="0.6"/><rect x="522.26" y="507.47" width="7.8" height="13.13" fill="#4682b4"/><line x1="526.16" y1="503.07" x2="526.16" y2="507.47" stroke="#a9c0d6" stroke-width="0.9"/><rect x="521.21" y="495.07" width="9.90" height="8" rx="1.2" fill="#fff" stroke="#7fa3c6" stroke-width="0.8"/><text x="526.16" y="500.87" font-size="5" fill="#4f769c" text-anchor="middle">84</text><text x="526.16" y="529.9" font-size="5.4" fill="#505050" text-anchor="middle">00时</text><line x1="526.16" y1="520.6" x2="526.16" y2="522.6" stroke="#ccc" stroke-width="0.6"/><rect x="534.47" y="509.35" width="7.8" height="11.25" fill="#4682b4"/><line x1="538.37" y1="504.95" x2="538.37" y2="509.35" stroke="#a9c0d6" stroke-width="0.9"/><rect x="533.42" y="496.95" width="9.90" height="8" rx="1.2" fill="#fff" stroke="#7fa3c6" stroke-width="0.8"/><text x="538.37" y="502.75" font-size="5" fill="#4f769c" text-anchor="middle">72</text><line x1="538.37" y1="520.6" x2="538.37" y2="522.6" stroke="#ccc" stroke-width="0.6"/><rect x="546.67" y="509.35" width="7.8" height="11.25" fill="#4682b4"/><line x1="550.57" y1="504.95" x2="550.57" y2="509.35" stroke="#a9c0d6" stroke-width="0.9"/><rect x="545.62" y="496.95" width="9.90" height="8" rx="1.2" fill="#fff" stroke="#7fa3c6" stroke-width="0.8"/><text x="550.57" y="502.75" font-size="5" fill="#4f769c" text-anchor="middle">72</text><text x="550.57" y="529.9" font-size="5.4" fill="#505050" text-anchor="middle">02时</text><line x1="550.57" y1="520.6" x2="550.57" y2="522.6" stroke="#ccc" stroke-width="0.6"/><rect x="558.88" y="509.97" width="7.8" height="10.63" fill="#4682b4"/><line x1="562.78" y1="505.57" x2="562.78" y2="509.97" stroke="#a9c0d6" stroke-width="0.9"/><rect x="557.83" y="497.57" width="9.90" height="8" rx="1.2" fill="#fff" stroke="#7fa3c6" stroke-width="0.8"/><text x="562.78" y="503.37" font-size="5" fill="#4f769c" text-anchor="middle">68</text><line x1="562.78" y1="520.6" x2="562.78" y2="522.6" stroke="#ccc" stroke-width="0.6"/><rect x="571.09" y="509.97" width="7.8" height="10.63" fill="#4682b4"/><line x1="574.99" y1="505.57" x2="574.99" y2="509.97" stroke="#a9c0d6" stroke-width="0.9"/><rect x="570.03" y="497.57" width="9.90" height="8" rx="1.2" fill="#fff" stroke="#7fa3c6" stroke-width="0.8"/><text x="574.99" y="503.37" font-size="5" fill="#4f769c" text-anchor="middle">68</text><text x="574.99" y="529.9" font-size="5.4" fill="#505050" text-anchor="middle">04时</text><line x1="574.99" y1="520.6" x2="574.99" y2="522.6" stroke="#ccc" stroke-width="0.6"/><rect x="583.29" y="510.28" width="7.8" height="10.32" fill="#4682b4"/><line x1="587.19" y1="505.88" x2="587.19" y2="510.28" stroke="#a9c0d6" stroke-width="0.9"/><rect x="582.24" y="497.88" width="9.90" height="8" rx="1.2" fill="#fff" stroke="#7fa3c6" stroke-width="0.8"/><text x="587.19" y="503.68" font-size="5" fill="#4f769c" text-anchor="middle">66</text><line x1="587.19" y1="520.6" x2="587.19" y2="522.6" stroke="#ccc" stroke-width="0.6"/><rect x="595.50" y="509.66" width="7.8" height="10.94" fill="#4682b4"/><line x1="599.39" y1="505.26" x2="599.39" y2="509.66" stroke="#a9c0d6" stroke-width="0.9"/><rect x="594.44" y="497.26" width="9.90" height="8" rx="1.2" fill="#fff" stroke="#7fa3c6" stroke-width="0.8"/><text x="599.39" y="503.06" font-size="5" fill="#4f769c" text-anchor="middle">70</text><text x="599.39" y="529.9" font-size="5.4" fill="#505050" text-anchor="middle">06时</text><line x1="599.39" y1="520.6" x2="599.39" y2="522.6" stroke="#ccc" stroke-width="0.6"/><rect x="607.70" y="510.60" width="7.8" height="10.00" fill="#4682b4"/><line x1="611.60" y1="506.20" x2="611.60" y2="510.60" stroke="#a9c0d6" stroke-width="0.9"/><rect x="606.65" y="498.20" width="9.90" height="8" rx="1.2" fill="#fff" stroke="#7fa3c6" stroke-width="0.8"/><text x="611.60" y="504.00" font-size="5" fill="#4f769c" text-anchor="middle">64</text><line x1="611.60" y1="520.6" x2="611.60" y2="522.6" stroke="#ccc" stroke-width="0.6"/><rect x="619.90" y="486.53" width="7.8" height="34.07" fill="#4682b4"/><line x1="623.80" y1="482.13" x2="623.80" y2="486.53" stroke="#a9c0d6" stroke-width="0.9"/><rect x="617.25" y="474.13" width="13.10" height="8" rx="1.2" fill="#fff" stroke="#7fa3c6" stroke-width="0.8"/><text x="623.80" y="479.93" font-size="5" fill="#4f769c" text-anchor="middle">218</text><text x="623.80" y="529.9" font-size="5.4" fill="#505050" text-anchor="middle">08时</text><line x1="623.80" y1="520.6" x2="623.80" y2="522.6" stroke="#ccc" stroke-width="0.6"/><rect x="632.11" y="480.27" width="7.8" height="40.33" fill="#4682b4"/><line x1="636.01" y1="475.87" x2="636.01" y2="480.27" stroke="#a9c0d6" stroke-width="0.9"/><rect x="629.46" y="467.87" width="13.10" height="8" rx="1.2" fill="#fff" stroke="#7fa3c6" stroke-width="0.8"/><text x="636.01" y="473.67" font-size="5" fill="#4f769c" text-anchor="middle">258</text><line x1="636.01" y1="520.6" x2="636.01" y2="522.6" stroke="#ccc" stroke-width="0.6"/><rect x="644.32" y="478.09" width="7.8" height="42.51" fill="#4682b4"/><line x1="648.22" y1="473.69" x2="648.22" y2="478.09" stroke="#a9c0d6" stroke-width="0.9"/><rect x="641.67" y="465.69" width="13.10" height="8" rx="1.2" fill="#fff" stroke="#7fa3c6" stroke-width="0.8"/><text x="648.22" y="471.49" font-size="5" fill="#4f769c" text-anchor="middle">272</text><text x="648.22" y="529.9" font-size="5.4" fill="#505050" text-anchor="middle">10时</text><line x1="648.22" y1="520.6" x2="648.22" y2="522.6" stroke="#ccc" stroke-width="0.6"/><rect x="656.52" y="474.96" width="7.8" height="45.64" fill="#4682b4"/><line x1="660.42" y1="470.56" x2="660.42" y2="474.96" stroke="#a9c0d6" stroke-width="0.9"/><rect x="653.87" y="462.56" width="13.10" height="8" rx="1.2" fill="#fff" stroke="#7fa3c6" stroke-width="0.8"/><text x="660.42" y="468.36" font-size="5" fill="#4f769c" text-anchor="middle">292</text><line x1="660.42" y1="520.6" x2="660.42" y2="522.6" stroke="#ccc" stroke-width="0.6"/><rect x="668.73" y="459.33" width="7.8" height="61.27" fill="#4682b4"/><line x1="672.62" y1="454.93" x2="672.62" y2="459.33" stroke="#a9c0d6" stroke-width="0.9"/><rect x="666.08" y="446.93" width="13.10" height="8" rx="1.2" fill="#fff" stroke="#7fa3c6" stroke-width="0.8"/><text x="672.62" y="452.73" font-size="5" fill="#4f769c" text-anchor="middle">392</text><text x="672.62" y="529.9" font-size="5.4" fill="#505050" text-anchor="middle">12时</text><line x1="672.62" y1="520.6" x2="672.62" y2="522.6" stroke="#ccc" stroke-width="0.6"/><rect x="680.93" y="451.52" width="7.8" height="69.08" fill="#4682b4"/><line x1="684.83" y1="447.12" x2="684.83" y2="451.52" stroke="#a9c0d6" stroke-width="0.9"/><rect x="678.28" y="439.12" width="13.10" height="8" rx="1.2" fill="#fff" stroke="#7fa3c6" stroke-width="0.8"/><text x="684.83" y="444.92" font-size="5" fill="#4f769c" text-anchor="middle">442</text><line x1="684.83" y1="520.6" x2="684.83" y2="522.6" stroke="#ccc" stroke-width="0.6"/><rect x="693.13" y="424.32" width="7.8" height="96.28" fill="#4682b4"/><line x1="697.03" y1="419.92" x2="697.03" y2="424.32" stroke="#a9c0d6" stroke-width="0.9"/><rect x="690.49" y="411.92" width="13.10" height="8" rx="1.2" fill="#fff" stroke="#7fa3c6" stroke-width="0.8"/><text x="697.03" y="417.72" font-size="5" fill="#4f769c" text-anchor="middle">616</text><text x="697.03" y="529.9" font-size="5.4" fill="#505050" text-anchor="middle">14时</text><line x1="697.03" y1="520.6" x2="697.03" y2="522.6" stroke="#ccc" stroke-width="0.6"/><rect x="705.34" y="399.62" width="7.8" height="120.98" fill="#4682b4"/><line x1="709.24" y1="395.22" x2="709.24" y2="399.62" stroke="#a9c0d6" stroke-width="0.9"/><rect x="702.69" y="387.22" width="13.10" height="8" rx="1.2" fill="#fff" stroke="#7fa3c6" stroke-width="0.8"/><text x="709.24" y="393.02" font-size="5" fill="#4f769c" text-anchor="middle">774</text><line x1="709.24" y1="520.6" x2="709.24" y2="522.6" stroke="#ccc" stroke-width="0.6"/><rect x="717.55" y="396.50" width="7.8" height="124.10" fill="#4682b4"/><line x1="721.45" y1="392.10" x2="721.45" y2="396.50" stroke="#a9c0d6" stroke-width="0.9"/><rect x="714.90" y="384.10" width="13.10" height="8" rx="1.2" fill="#fff" stroke="#7fa3c6" stroke-width="0.8"/><text x="721.45" y="389.90" font-size="5" fill="#4f769c" text-anchor="middle">794</text><text x="721.45" y="529.9" font-size="5.4" fill="#505050" text-anchor="middle">16时</text><line x1="721.45" y1="520.6" x2="721.45" y2="522.6" stroke="#ccc" stroke-width="0.6"/><rect x="729.75" y="413.38" width="7.8" height="107.22" fill="#4682b4"/><line x1="733.65" y1="408.98" x2="733.65" y2="413.38" stroke="#a9c0d6" stroke-width="0.9"/><rect x="727.10" y="400.98" width="13.10" height="8" rx="1.2" fill="#fff" stroke="#7fa3c6" stroke-width="0.8"/><text x="733.65" y="406.78" font-size="5" fill="#4f769c" text-anchor="middle">686</text><line x1="733.65" y1="520.6" x2="733.65" y2="522.6" stroke="#ccc" stroke-width="0.6"/><rect x="741.96" y="413.07" width="7.8" height="107.53" fill="#4682b4"/><line x1="745.86" y1="408.67" x2="745.86" y2="413.07" stroke="#a9c0d6" stroke-width="0.9"/><rect x="739.31" y="400.67" width="13.10" height="8" rx="1.2" fill="#fff" stroke="#7fa3c6" stroke-width="0.8"/><text x="745.86" y="406.47" font-size="5" fill="#4f769c" text-anchor="middle">688</text><text x="745.86" y="529.9" font-size="5.4" fill="#505050" text-anchor="middle">18时</text><line x1="745.86" y1="520.6" x2="745.86" y2="522.6" stroke="#ccc" stroke-width="0.6"/><rect x="754.16" y="404.63" width="7.8" height="115.97" fill="#4682b4"/><line x1="758.06" y1="400.23" x2="758.06" y2="404.63" stroke="#a9c0d6" stroke-width="0.9"/><rect x="751.51" y="392.23" width="13.10" height="8" rx="1.2" fill="#fff" stroke="#7fa3c6" stroke-width="0.8"/><text x="758.06" y="398.03" font-size="5" fill="#4f769c" text-anchor="middle">742</text><line x1="758.06" y1="520.6" x2="758.06" y2="522.6" stroke="#ccc" stroke-width="0.6"/><rect x="766.37" y="429.95" width="7.8" height="90.65" fill="#4682b4"/><line x1="770.26" y1="425.55" x2="770.26" y2="429.95" stroke="#a9c0d6" stroke-width="0.9"/><rect x="763.72" y="417.55" width="13.10" height="8" rx="1.2" fill="#fff" stroke="#7fa3c6" stroke-width="0.8"/><text x="770.26" y="423.35" font-size="5" fill="#4f769c" text-anchor="middle">580</text><text x="770.26" y="529.9" font-size="5.4" fill="#505050" text-anchor="middle">20时</text><line x1="770.26" y1="520.6" x2="770.26" y2="522.6" stroke="#ccc" stroke-width="0.6"/><rect x="778.57" y="464.33" width="7.8" height="56.27" fill="#4682b4"/><line x1="782.47" y1="459.93" x2="782.47" y2="464.33" stroke="#a9c0d6" stroke-width="0.9"/><rect x="775.92" y="451.93" width="13.10" height="8" rx="1.2" fill="#fff" stroke="#7fa3c6" stroke-width="0.8"/><text x="782.47" y="457.73" font-size="5" fill="#4f769c" text-anchor="middle">360</text><line x1="782.47" y1="520.6" x2="782.47" y2="522.6" stroke="#ccc" stroke-width="0.6"/><rect x="790.78" y="448.08" width="7.8" height="72.52" fill="#4682b4"/><line x1="794.68" y1="443.68" x2="794.68" y2="448.08" stroke="#a9c0d6" stroke-width="0.9"/><rect x="788.13" y="435.68" width="13.10" height="8" rx="1.2" fill="#fff" stroke="#7fa3c6" stroke-width="0.8"/><text x="794.68" y="441.48" font-size="5" fill="#4f769c" text-anchor="middle">464</text><text x="794.68" y="529.9" font-size="5.4" fill="#505050" text-anchor="middle">22时</text><line x1="794.68" y1="520.6" x2="794.68" y2="522.6" stroke="#ccc" stroke-width="0.6"/><rect x="802.98" y="435.57" width="7.8" height="85.03" fill="#4682b4"/><line x1="806.88" y1="431.17" x2="806.88" y2="435.57" stroke="#a9c0d6" stroke-width="0.9"/><rect x="800.33" y="423.17" width="13.10" height="8" rx="1.2" fill="#fff" stroke="#7fa3c6" stroke-width="0.8"/><text x="806.88" y="428.97" font-size="5" fill="#4f769c" text-anchor="middle">544</text><line x1="806.88" y1="520.6" x2="806.88" y2="522.6" stroke="#ccc" stroke-width="0.6"/><rect x="815.18" y="446.51" width="7.8" height="74.09" fill="#4682b4"/><line x1="819.08" y1="442.11" x2="819.08" y2="446.51" stroke="#a9c0d6" stroke-width="0.9"/><rect x="812.53" y="434.11" width="13.10" height="8" rx="1.2" fill="#fff" stroke="#7fa3c6" stroke-width="0.8"/><text x="819.08" y="439.91" font-size="5" fill="#4f769c" text-anchor="middle">474</text><text x="819.08" y="529.9" font-size="5.4" fill="#505050" text-anchor="middle">00时</text><line x1="819.08" y1="520.6" x2="819.08" y2="522.6" stroke="#ccc" stroke-width="0.6"/><rect x="827.39" y="434.32" width="7.8" height="86.28" fill="#4682b4"/><line x1="831.29" y1="429.92" x2="831.29" y2="434.32" stroke="#a9c0d6" stroke-width="0.9"/><rect x="824.74" y="421.92" width="13.10" height="8" rx="1.2" fill="#fff" stroke="#7fa3c6" stroke-width="0.8"/><text x="831.29" y="427.72" font-size="5" fill="#4f769c" text-anchor="middle">552</text><line x1="831.29" y1="520.6" x2="831.29" y2="522.6" stroke="#ccc" stroke-width="0.6"/><rect x="839.60" y="422.76" width="7.8" height="97.84" fill="#4682b4"/><line x1="843.50" y1="418.36" x2="843.50" y2="422.76" stroke="#a9c0d6" stroke-width="0.9"/><rect x="836.95" y="410.36" width="13.10" height="8" rx="1.2" fill="#fff" stroke="#7fa3c6" stroke-width="0.8"/><text x="843.50" y="416.16" font-size="5" fill="#4f769c" text-anchor="middle">626</text><text x="843.50" y="529.9" font-size="5.4" fill="#505050" text-anchor="middle">02时</text><line x1="843.50" y1="520.6" x2="843.50" y2="522.6" stroke="#ccc" stroke-width="0.6"/><rect x="851.80" y="422.44" width="7.8" height="98.16" fill="#4682b4"/><line x1="855.70" y1="418.04" x2="855.70" y2="422.44" stroke="#a9c0d6" stroke-width="0.9"/><rect x="849.15" y="410.04" width="13.10" height="8" rx="1.2" fill="#fff" stroke="#7fa3c6" stroke-width="0.8"/><text x="855.70" y="415.84" font-size="5" fill="#4f769c" text-anchor="middle">628</text><line x1="855.70" y1="520.6" x2="855.70" y2="522.6" stroke="#ccc" stroke-width="0.6"/><rect x="864.01" y="430.57" width="7.8" height="90.03" fill="#4682b4"/><line x1="867.91" y1="426.17" x2="867.91" y2="430.57" stroke="#a9c0d6" stroke-width="0.9"/><rect x="861.36" y="418.17" width="13.10" height="8" rx="1.2" fill="#fff" stroke="#7fa3c6" stroke-width="0.8"/><text x="867.91" y="423.97" font-size="5" fill="#4f769c" text-anchor="middle">576</text><text x="867.91" y="529.9" font-size="5.4" fill="#505050" text-anchor="middle">04时</text><line x1="867.91" y1="520.6" x2="867.91" y2="522.6" stroke="#ccc" stroke-width="0.6"/><rect x="876.21" y="427.76" width="7.8" height="92.84" fill="#4682b4"/><line x1="880.11" y1="423.36" x2="880.11" y2="427.76" stroke="#a9c0d6" stroke-width="0.9"/><rect x="873.56" y="415.36" width="13.10" height="8" rx="1.2" fill="#fff" stroke="#7fa3c6" stroke-width="0.8"/><text x="880.11" y="421.16" font-size="5" fill="#4f769c" text-anchor="middle">594</text><line x1="880.11" y1="520.6" x2="880.11" y2="522.6" stroke="#ccc" stroke-width="0.6"/><rect x="888.42" y="421.51" width="7.8" height="99.09" fill="#4682b4"/><line x1="892.32" y1="417.11" x2="892.32" y2="421.51" stroke="#a9c0d6" stroke-width="0.9"/><rect x="885.77" y="409.11" width="13.10" height="8" rx="1.2" fill="#fff" stroke="#7fa3c6" stroke-width="0.8"/><text x="892.32" y="414.91" font-size="5" fill="#4f769c" text-anchor="middle">634</text><text x="892.32" y="529.9" font-size="5.4" fill="#505050" text-anchor="middle">06时</text><line x1="892.32" y1="520.6" x2="892.32" y2="522.6" stroke="#ccc" stroke-width="0.6"/><rect x="900.62" y="435.57" width="7.8" height="85.03" fill="#4682b4"/><line x1="904.52" y1="431.17" x2="904.52" y2="435.57" stroke="#a9c0d6" stroke-width="0.9"/><rect x="897.97" y="423.17" width="13.10" height="8" rx="1.2" fill="#fff" stroke="#7fa3c6" stroke-width="0.8"/><text x="904.52" y="428.97" font-size="5" fill="#4f769c" text-anchor="middle">544</text><line x1="904.52" y1="520.6" x2="904.52" y2="522.6" stroke="#ccc" stroke-width="0.6"/><rect x="912.83" y="456.20" width="7.8" height="64.40" fill="#4682b4"/><line x1="916.73" y1="451.80" x2="916.73" y2="456.20" stroke="#a9c0d6" stroke-width="0.9"/><rect x="910.18" y="443.80" width="13.10" height="8" rx="1.2" fill="#fff" stroke="#7fa3c6" stroke-width="0.8"/><text x="916.73" y="449.60" font-size="5" fill="#4f769c" text-anchor="middle">412</text><text x="916.73" y="529.9" font-size="5.4" fill="#505050" text-anchor="middle">08时</text><line x1="916.73" y1="520.6" x2="916.73" y2="522.6" stroke="#ccc" stroke-width="0.6"/><rect x="925.03" y="464.96" width="7.8" height="55.64" fill="#4682b4"/><line x1="928.93" y1="460.56" x2="928.93" y2="464.96" stroke="#a9c0d6" stroke-width="0.9"/><rect x="922.38" y="452.56" width="13.10" height="8" rx="1.2" fill="#fff" stroke="#7fa3c6" stroke-width="0.8"/><text x="928.93" y="458.36" font-size="5" fill="#4f769c" text-anchor="middle">356</text><line x1="928.93" y1="520.6" x2="928.93" y2="522.6" stroke="#ccc" stroke-width="0.6"/><rect x="937.24" y="506.53" width="7.8" height="14.07" fill="#4682b4"/><line x1="941.13" y1="502.13" x2="941.13" y2="506.53" stroke="#a9c0d6" stroke-width="0.9"/><rect x="936.18" y="494.13" width="9.90" height="8" rx="1.2" fill="#fff" stroke="#7fa3c6" stroke-width="0.8"/><text x="941.13" y="499.93" font-size="5" fill="#4f769c" text-anchor="middle">90</text><text x="941.13" y="529.9" font-size="5.4" fill="#505050" text-anchor="middle">10时</text><line x1="941.13" y1="520.6" x2="941.13" y2="522.6" stroke="#ccc" stroke-width="0.6"/></svg>
<div class="a" style="left:959px;top:85px;width:1px;height:455px;background:#c8c8c8"></div>
</body></html>
